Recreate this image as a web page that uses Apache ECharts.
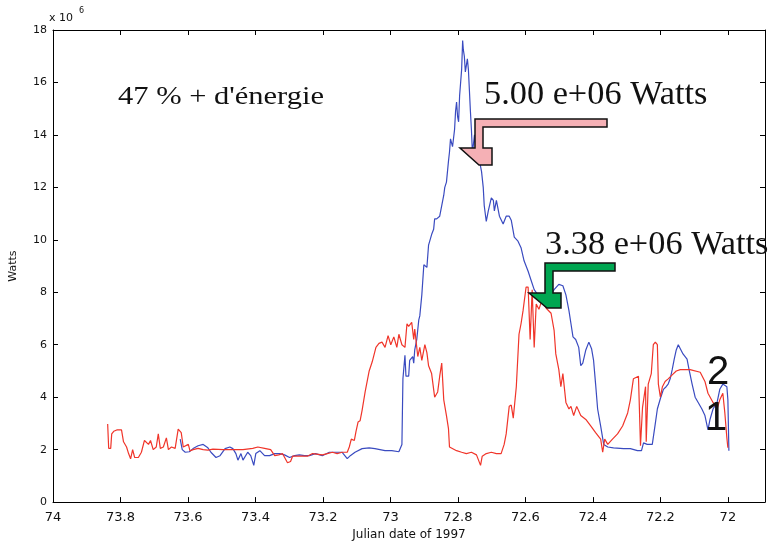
<!DOCTYPE html>
<html>
<head>
<meta charset="utf-8">
<script src="https://cdn.jsdelivr.net/npm/echarts@6/dist/echarts.min.js"></script>
<style>
  html, body { margin: 0; padding: 0; background: #fff; }
  #chart { width: 770px; height: 546px; }
</style>
</head>
<body>
<div id="chart"></div>
<script>
// puissance (x 10^6 W) en fonction du jour julien 1997
const xTicks = [74, 73.8, 73.6, 73.4, 73.2, 73, 72.8, 72.6, 72.4, 72.2, 72]

// courbe 1 (rouge)
const redX = [73.838, 73.835, 73.829, 73.826, 73.820, 73.811, 73.797, 73.791, 73.782, 73.776,
  73.770, 73.764, 73.758, 73.747, 73.738, 73.729, 73.717, 73.711, 73.703, 73.694,
  73.688, 73.682, 73.673, 73.664, 73.658, 73.649, 73.638, 73.629, 73.620, 73.614,
  73.599, 73.594, 73.585, 73.570, 73.555, 73.541, 73.526, 73.496, 73.467, 73.437,
  73.408, 73.393, 73.373, 73.355, 73.343, 73.331, 73.320, 73.305, 73.296, 73.290,
  73.275, 73.246, 73.231, 73.202, 73.187, 73.172, 73.158, 73.143, 73.128, 73.122,
  73.116, 73.107, 73.102, 73.096, 73.090, 73.084, 73.075, 73.063, 73.054, 73.043,
  73.034, 73.025, 73.016, 73.007, 72.999, 72.990, 72.981, 72.975, 72.966, 72.957,
  72.951, 72.946, 72.937, 72.931, 72.928, 72.919, 72.913, 72.907, 72.898, 72.892,
  72.887, 72.878, 72.869, 72.860, 72.854, 72.848, 72.842, 72.834, 72.828, 72.825,
  72.804, 72.789, 72.775, 72.760, 72.745, 72.733, 72.728, 72.716, 72.701, 72.686,
  72.672, 72.663, 72.657, 72.648, 72.642, 72.636, 72.627, 72.619, 72.613, 72.607,
  72.598, 72.592, 72.586, 72.580, 72.574, 72.568, 72.560, 72.551, 72.539, 72.524,
  72.515, 72.510, 72.501, 72.495, 72.489, 72.480, 72.471, 72.465, 72.457, 72.448,
  72.436, 72.421, 72.406, 72.392, 72.377, 72.371, 72.365, 72.356, 72.342, 72.327,
  72.312, 72.297, 72.289, 72.280, 72.265, 72.259, 72.253, 72.244, 72.242, 72.236,
  72.227, 72.221, 72.215, 72.209, 72.206, 72.200, 72.194, 72.186, 72.177, 72.165,
  72.153, 72.141, 72.112, 72.082, 72.068, 72.059, 72.044, 72.032, 72.024, 72.015,
  72.009, 72.003, 72.000]
const redY = [2.98, 2.05, 2.05, 2.6, 2.7, 2.75, 2.75, 2.3, 2.1, 1.85,
  1.65, 2.0, 1.7, 1.7, 1.9, 2.35, 2.2, 2.35, 2.0, 2.1,
  2.6, 2.05, 2.1, 2.45, 2.0, 2.1, 2.05, 2.78, 2.65, 2.1,
  2.2, 1.95, 2.0, 2.05, 2.0, 1.98, 2.02, 2.0, 2.0, 2.0,
  2.05, 2.1, 2.05, 2.0, 1.77, 1.8, 1.85, 1.5, 1.55, 1.75,
  1.75, 1.75, 1.85, 1.8, 1.85, 1.9, 1.85, 1.9, 1.9, 2.1,
  2.4, 2.35, 2.7, 3.05, 3.1, 3.5, 4.2, 5.0, 5.35, 5.9,
  6.05, 6.1, 5.9, 6.35, 6.0, 6.3, 5.9, 6.4, 6.0, 5.9,
  6.8, 6.7, 6.85, 6.2, 6.6, 5.55, 5.9, 5.4, 6.0, 5.7,
  5.2, 4.9, 4.0, 4.2, 4.8, 5.3, 3.9, 3.3, 2.8, 2.1,
  1.96, 1.9, 1.85, 1.9, 1.8, 1.4, 1.75, 1.85, 1.9, 1.85,
  1.85, 2.2, 2.6, 3.65, 3.7, 3.2, 4.4, 6.4, 6.8, 7.3,
  8.2, 8.2, 6.2, 8.1, 5.9, 7.55, 7.35, 7.7, 7.4, 7.2,
  6.55, 5.65, 5.05, 4.4, 4.9, 3.8, 3.55, 3.65, 3.3, 3.65,
  3.3, 3.15, 2.9, 2.65, 2.4, 1.9, 2.4, 2.2, 2.4, 2.6,
  2.9, 3.4, 3.9, 4.7, 4.8, 2.15, 3.6, 4.4, 2.3, 4.5,
  4.9, 6.0, 6.1, 6.0, 4.5, 4.0, 4.4, 4.6, 4.7, 4.85,
  5.0, 5.05, 5.05, 4.95, 4.6, 4.15, 3.8, 3.55, 3.9, 4.15,
  3.4, 2.45, 2.07]

// courbe 2 (bleue)
const blueX = [73.623, 73.617, 73.608, 73.596, 73.585, 73.570, 73.555, 73.541, 73.532, 73.517,
  73.505, 73.490, 73.476, 73.467, 73.458, 73.452, 73.443, 73.437, 73.423, 73.414,
  73.405, 73.399, 73.387, 73.373, 73.358, 73.343, 73.328, 73.314, 73.299, 73.284,
  73.270, 73.255, 73.240, 73.222, 73.202, 73.181, 73.163, 73.143, 73.128, 73.119,
  73.105, 73.084, 73.063, 73.046, 73.016, 72.996, 72.975, 72.966, 72.963, 72.957,
  72.954, 72.946, 72.943, 72.934, 72.931, 72.928, 72.922, 72.916, 72.913, 72.907,
  72.901, 72.898, 72.892, 72.887, 72.878, 72.872, 72.869, 72.863, 72.854, 72.848,
  72.842, 72.839, 72.834, 72.828, 72.825, 72.822, 72.816, 72.810, 72.807, 72.804,
  72.801, 72.798, 72.795, 72.792, 72.789, 72.786, 72.784, 72.781, 72.778, 72.772,
  72.769, 72.766, 72.763, 72.760, 72.757, 72.751, 72.745, 72.736, 72.730, 72.725,
  72.722, 72.716, 72.710, 72.701, 72.695, 72.692, 72.686, 72.677, 72.666, 72.657,
  72.648, 72.642, 72.633, 72.622, 72.613, 72.604, 72.592, 72.583, 72.574, 72.563,
  72.548, 72.530, 72.515, 72.501, 72.489, 72.480, 72.471, 72.465, 72.459, 72.451,
  72.442, 72.436, 72.430, 72.421, 72.412, 72.404, 72.398, 72.392, 72.386, 72.377,
  72.368, 72.356, 72.339, 72.309, 72.289, 72.268, 72.256, 72.250, 72.239, 72.224,
  72.215, 72.209, 72.200, 72.191, 72.183, 72.177, 72.171, 72.165, 72.159, 72.153,
  72.147, 72.141, 72.133, 72.121, 72.115, 72.106, 72.097, 72.088, 72.077, 72.068,
  72.059, 72.053, 72.044, 72.032, 72.024, 72.015, 72.003, 72.000, 71.997]
const blueY = [2.4, 2.0, 1.9, 1.92, 2.04, 2.15, 2.2, 2.07, 1.9, 1.7,
  1.77, 2.04, 2.1, 2.04, 1.85, 1.6, 1.85, 1.6, 1.9, 1.77,
  1.4, 1.85, 1.96, 1.77, 1.77, 1.85, 1.85, 1.8, 1.7, 1.77,
  1.8, 1.77, 1.77, 1.85, 1.77, 1.9, 1.9, 1.9, 1.66, 1.77,
  1.9, 2.04, 2.07, 2.04, 1.96, 1.96, 1.92, 2.2, 4.7, 5.6,
  4.8, 4.8, 5.4, 5.55, 5.3, 5.8, 6.2, 6.95, 7.1, 7.9,
  9.05, 9.1, 8.95, 9.8, 10.2, 10.4, 10.8, 10.8, 10.9, 11.3,
  11.7, 12.0, 12.2, 13.0, 13.35, 13.85, 13.55, 14.2, 14.9, 15.25,
  14.7, 14.5, 15.5, 16.0, 16.5, 17.6, 17.25, 17.0, 16.4, 16.9,
  16.5, 15.7, 14.9, 14.2, 13.3, 14.0, 13.1, 13.0, 12.6, 12.0,
  11.3, 10.7, 11.1, 11.6, 11.5, 11.1, 11.5, 10.9, 10.6, 10.9,
  10.9, 10.75, 10.1, 9.95, 9.7, 9.2, 8.8, 8.45, 8.1, 7.9,
  7.7, 7.8, 8.1, 8.3, 8.25, 7.9, 7.3, 6.8, 6.3, 6.2,
  5.9, 5.2, 5.3, 5.8, 6.1, 5.85, 5.4, 4.5, 3.55, 2.9,
  2.2, 2.1, 2.07, 2.04, 2.04, 1.96, 1.96, 2.26, 2.2, 2.2,
  3.0, 3.55, 3.95, 4.3, 4.4, 4.5, 4.7, 5.05, 5.45, 5.8,
  6.0, 5.85, 5.65, 5.45, 5.05, 4.5, 4.0, 3.8, 3.55, 3.3,
  2.75, 3.15, 3.55, 3.8, 4.3, 4.5, 4.4, 3.9, 1.96]

const zip = (xs, ys) => xs.map((x, i) => [x, ys[i]])

const chart = echarts.init(document.getElementById('chart'))

const tickFont = { fontFamily: 'DejaVu Sans', color: '#111' }
const xBase = {
  type: 'value',
  min: 71.89,
  max: 74,
  inverse: true,
  splitLine: { show: false },
  axisLine: { onZero: false, lineStyle: { color: '#000', width: 1 } }
}
const yBase = {
  type: 'value',
  min: 0,
  max: 18,
  interval: 2,
  splitLine: { show: false },
  axisLine: { show: true, onZero: false, lineStyle: { color: '#000', width: 1 } }
}

chart.setOption({
  animation: false,
  backgroundColor: '#fff',
  grid: { left: 49, right: 5, top: 30, bottom: 39 },
  xAxis: [
    Object.assign({}, xBase, {
      position: 'bottom',
      name: 'Julian date of 1997',
      nameLocation: 'middle',
      nameGap: 24,
      nameTextStyle: Object.assign({ fontSize: 12 }, tickFont),
      axisTick: { inside: true, length: 5, customValues: xTicks, lineStyle: { color: '#000' } },
      axisLabel: Object.assign({ customValues: xTicks, fontSize: 13, margin: 9 }, tickFont)
    }),
    Object.assign({}, xBase, {
      position: 'top',
      axisTick: { inside: true, length: 5, customValues: xTicks, lineStyle: { color: '#000' } },
      axisLabel: { show: false }
    })
  ],
  yAxis: [
    Object.assign({}, yBase, {
      position: 'left',
      name: 'Watts',
      nameLocation: 'middle',
      nameRotate: 90,
      nameGap: 34,
      nameTextStyle: Object.assign({ fontSize: 11 }, tickFont),
      axisTick: { inside: true, length: 5, lineStyle: { color: '#000' } },
      axisLabel: Object.assign({ fontSize: 11, margin: 6 }, tickFont)
    }),
    Object.assign({}, yBase, {
      position: 'right',
      axisTick: { inside: true, length: 5, lineStyle: { color: '#000' } },
      axisLabel: { show: false }
    })
  ],
  series: [
    {
      name: '2',
      type: 'line',
      data: zip(blueX, blueY),
      showSymbol: false,
      lineStyle: { color: '#3a4bc0', width: 1.2 },
      z: 2
    },
    {
      name: '1',
      type: 'line',
      data: zip(redX, redY),
      showSymbol: false,
      lineStyle: { color: '#f0352a', width: 1.2 },
      z: 3
    }
  ],
  graphic: [
    { type: 'text', left: 49, top: 13, style: { text: 'x 10', font: '11px "DejaVu Sans"', fill: '#111' } },
    { type: 'text', left: 79, top: 7, style: { text: '6', font: '8px "DejaVu Sans"', fill: '#111' } },
    {
      type: 'text', x: 118, y: 97, scaleX: 1.22, z: 10,
      style: { text: '47 % + d\'énergie', font: '25px "Liberation Serif"', fill: '#111', verticalAlign: 'middle' }
    },
    {
      type: 'text', x: 484, y: 95, scaleX: 1.04, z: 10,
      style: { text: '5.00 e+06 Watts', font: '33px "Liberation Serif"', fill: '#111', verticalAlign: 'middle' }
    },
    {
      type: 'text', x: 545, y: 245, scaleX: 1.04, z: 10,
      style: { text: '3.38 e+06 Watts', font: '33px "Liberation Serif"', fill: '#111', verticalAlign: 'middle' }
    },
    {
      type: 'polygon', z: 10,
      shape: { points: [[475, 119], [607, 119], [607, 127], [483, 127], [483, 148], [492, 148], [492, 165], [479, 165], [460, 148], [475, 148]] },
      style: { fill: '#f5b0b5', stroke: '#111', lineWidth: 1.5 }
    },
    {
      type: 'polygon', z: 10,
      shape: { points: [[545, 263], [615, 263], [615, 271], [553, 271], [553, 293], [561, 293], [561, 308], [547, 308], [529, 293], [545, 293]] },
      style: { fill: '#00a651', stroke: '#111', lineWidth: 1.5 }
    },
    {
      type: 'text', x: 718, y: 373, z: 10,
      style: { text: '2', font: '40px "Liberation Sans"', fill: '#111', align: 'center', verticalAlign: 'middle' }
    },
    {
      type: 'text', x: 716, y: 419, z: 10,
      style: { text: '1', font: '40px "Liberation Sans"', fill: '#111', align: 'center', verticalAlign: 'middle' }
    }
  ]
})
</script>
</body>
</html>
